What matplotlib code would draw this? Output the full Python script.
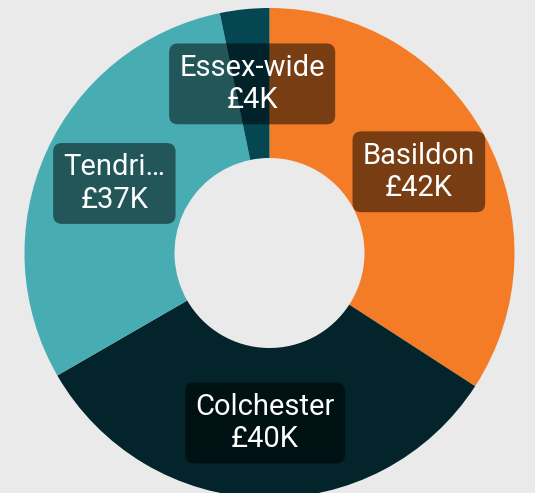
import matplotlib
matplotlib.use("Agg")
import matplotlib.pyplot as plt
import numpy as np

categories = ["Basildon", "Colchester", "Tendri…", "Essex-wide"]
values = [42, 40, 37, 4]
value_labels = ["£42K", "£40K", "£37K", "£4K"]
colors = ["#F47C27", "#02242A", "#48ADB3", "#044652"]

W, H = 535, 493
BG = "#EAEAEA"
fig = plt.figure(figsize=(W / 100, H / 100), dpi=100)
fig.patch.set_facecolor(BG)
ax = fig.add_axes([0, 0, 1, 1])
ax.set_facecolor(BG)

cx, cy = 269.5, 253
R = 245
r_in = 95

wedges, _ = ax.pie(values, colors=colors, startangle=90, counterclock=False,
                   radius=R, wedgeprops=dict(width=R - r_in, linewidth=0))

ax.set_xlim(-cx, W - cx)
ax.set_ylim(-(H - cy), cy)
ax.set_aspect("equal")
ax.axis("off")

total = sum(values)
cum = 0
rmid = (R + r_in) / 2
for cat, v, lab in zip(categories, values, value_labels):
    mid = (cum + v / 2) / total * 2 * np.pi
    cum += v
    x = rmid * np.sin(mid)
    y = rmid * np.cos(mid)
    ax.text(x, y, f"{cat}\n{lab}", ha="center", va="center", color="white",
            fontsize=21, family="Roboto", linespacing=1.2, zorder=5,
            bbox=dict(boxstyle="round,pad=0.35,rounding_size=0.3",
                      facecolor="black", alpha=0.5, edgecolor="none"))

fig.savefig("out.png", dpi=100, facecolor=fig.get_facecolor())
